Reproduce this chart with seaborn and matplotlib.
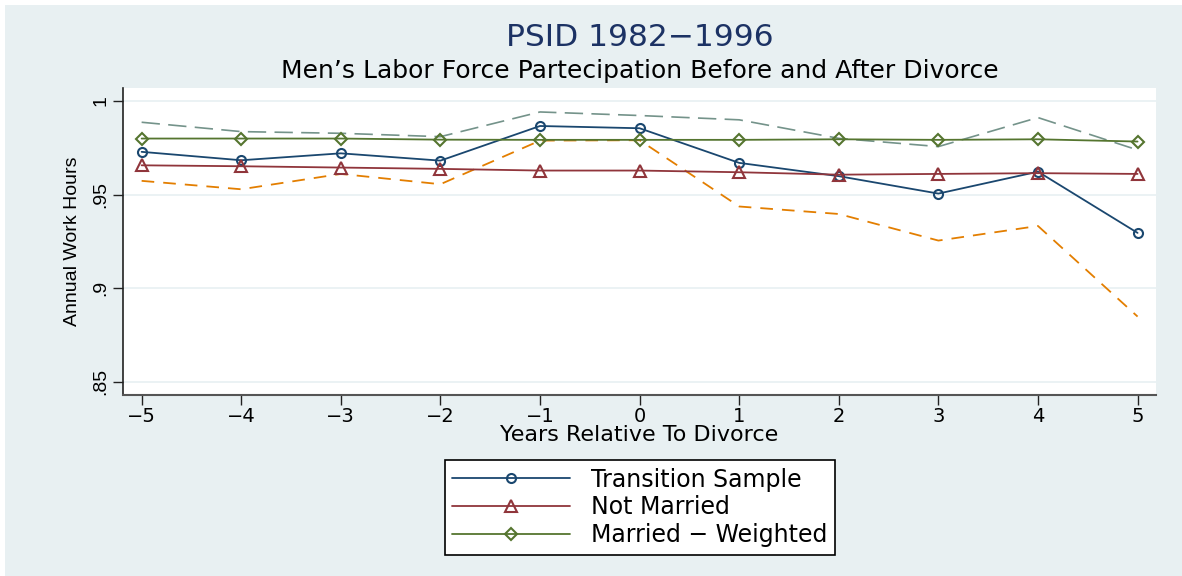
import pandas as pd
import matplotlib
matplotlib.use('Agg')
import matplotlib.pyplot as plt
import seaborn as sns
from matplotlib.patches import Rectangle

# values
years = [-5, -4, -3, -2, -1, 0, 1, 2, 3, 4, 5]
transition = [0.9728, 0.9683, 0.9720, 0.9681, 0.9866, 0.9854, 0.9669, 0.9598, 0.9505, 0.9622, 0.9295]
not_married = [0.9656, 0.9651, 0.9644, 0.9637, 0.9628, 0.9628, 0.9619, 0.9606, 0.9610, 0.9614, 0.9610]
married_w = [0.9799, 0.9799, 0.9799, 0.9793, 0.9792, 0.9792, 0.9792, 0.9795, 0.9792, 0.9795, 0.9783]
upper_band = [0.9886, 0.9836, 0.9827, 0.9809, 0.9941, 0.9922, 0.9899, 0.9800, 0.9756, 0.9911, 0.9738]
lower_band = [0.9573, 0.9528, 0.9610, 0.9555, 0.9788, 0.9790, 0.9436, 0.9396, 0.9254, 0.9332, 0.8848]

ytick_vals = [0.85, 0.9, 0.95, 1.0]
ytick_labels = ['.85', '.9', '.95', '1']

bg = '#e8f0f2'
navy = '#1a476f'
maroon = '#90353b'
green = '#55752f'
orange = '#e37e00'
teal = '#74938a'

sns.set_theme(style='white')
# wide sans for the (horizontally stretched) horizontal texts
plt.rcParams['font.family'] = ['DejaVu Sans']
narrow = ['Liberation Sans', 'DejaVu Sans']

fig = plt.figure(figsize=(11.82, 5.76), dpi=100)
fig.patch.set_facecolor(bg)
fig.patches.append(Rectangle((0, 1 - 5 / 576), 1, 5 / 576, transform=fig.transFigure,
                             facecolor='white', edgecolor='none', zorder=0))
fig.patches.append(Rectangle((0, 0), 5 / 1182, 1, transform=fig.transFigure,
                             facecolor='white', edgecolor='none', zorder=0))

ax = fig.add_axes([123 / 1182, 1 - 395 / 576, (1156 - 123) / 1182, (395 - 88) / 576])
ax.set_facecolor('white')

# dashed bands (no legend entry)
sns.lineplot(x=years, y=upper_band, ax=ax, color=teal, lw=1.2, legend=False)
ax.lines[-1].set_dashes((11, 5))
sns.lineplot(x=years, y=lower_band, ax=ax, color=orange, lw=1.3, legend=False)
ax.lines[-1].set_dashes((7, 5))

series = [
    ('Transition Sample', transition, navy, 'o', 6.5),
    ('Not Married', not_married, maroon, '^', 8),
    ('Married \u2212 Weighted', married_w, green, 'D', 6.5),
]
for name, vals, col, mk, ms in series:
    sns.lineplot(x=years, y=vals, ax=ax, color=col, lw=1.3, marker=mk, markersize=ms,
                 markerfacecolor='none', markeredgecolor=col, markeredgewidth=1.5,
                 label=name)

ax.set_xlim(-5.187, 5.185)
ax.set_ylim(0.8429, 1.0069)
ax.set_xticks(years)
ax.set_yticks(ytick_vals)
ax.set_yticklabels(ytick_labels, rotation=90, va='center', family=narrow)
ax.tick_params(axis='both', direction='out', length=7, width=1, color='#222222',
               labelsize=14, labelcolor='black', pad=3)
ax.tick_params(axis='x', pad=2)
ax.tick_params(left=True, bottom=True)
ax.grid(axis='y', color=bg, lw=1.2)
ax.set_axisbelow(True)
for s in ['top', 'right']:
    ax.spines[s].set_visible(False)
ax.spines['left'].set_color('#222222')
ax.spines['bottom'].set_color('#555555')
ax.spines['left'].set_linewidth(1.2)
ax.spines['bottom'].set_linewidth(1.5)

ax.set_xlabel('Years Relative To Divorce', fontsize=16, labelpad=-1, color='black')
ax.set_ylabel('Annual Work Hours', fontsize=14, labelpad=8, color='black', family=narrow)

fig.text(0.5414, 1 - 38 / 576, 'PSID 1982\u22121996', ha='center', va='center',
         fontsize=22.5, color='#1c3264')
fig.text(0.5414, 1 - 71 / 576, 'Men\u2019s Labor Force Partecipation Before and After Divorce',
         ha='center', va='center', fontsize=18, color='black')

leg = ax.legend(loc='upper center', bbox_to_anchor=(640 / 1182, 1 - 460 / 576),
                bbox_transform=fig.transFigure, fontsize=17, frameon=True, fancybox=False,
                handlelength=5.0, handletextpad=0.9, labelspacing=0.16, borderpad=0.32,
                borderaxespad=0, numpoints=1)
for t in leg.get_texts():
    t.set_color('black')
leg.get_frame().set_edgecolor('black')
leg.get_frame().set_linewidth(1.2)
leg.get_frame().set_facecolor('white')
leg.get_frame().set_alpha(1)

fig.savefig('out.png', dpi=100, facecolor=fig.get_facecolor())
